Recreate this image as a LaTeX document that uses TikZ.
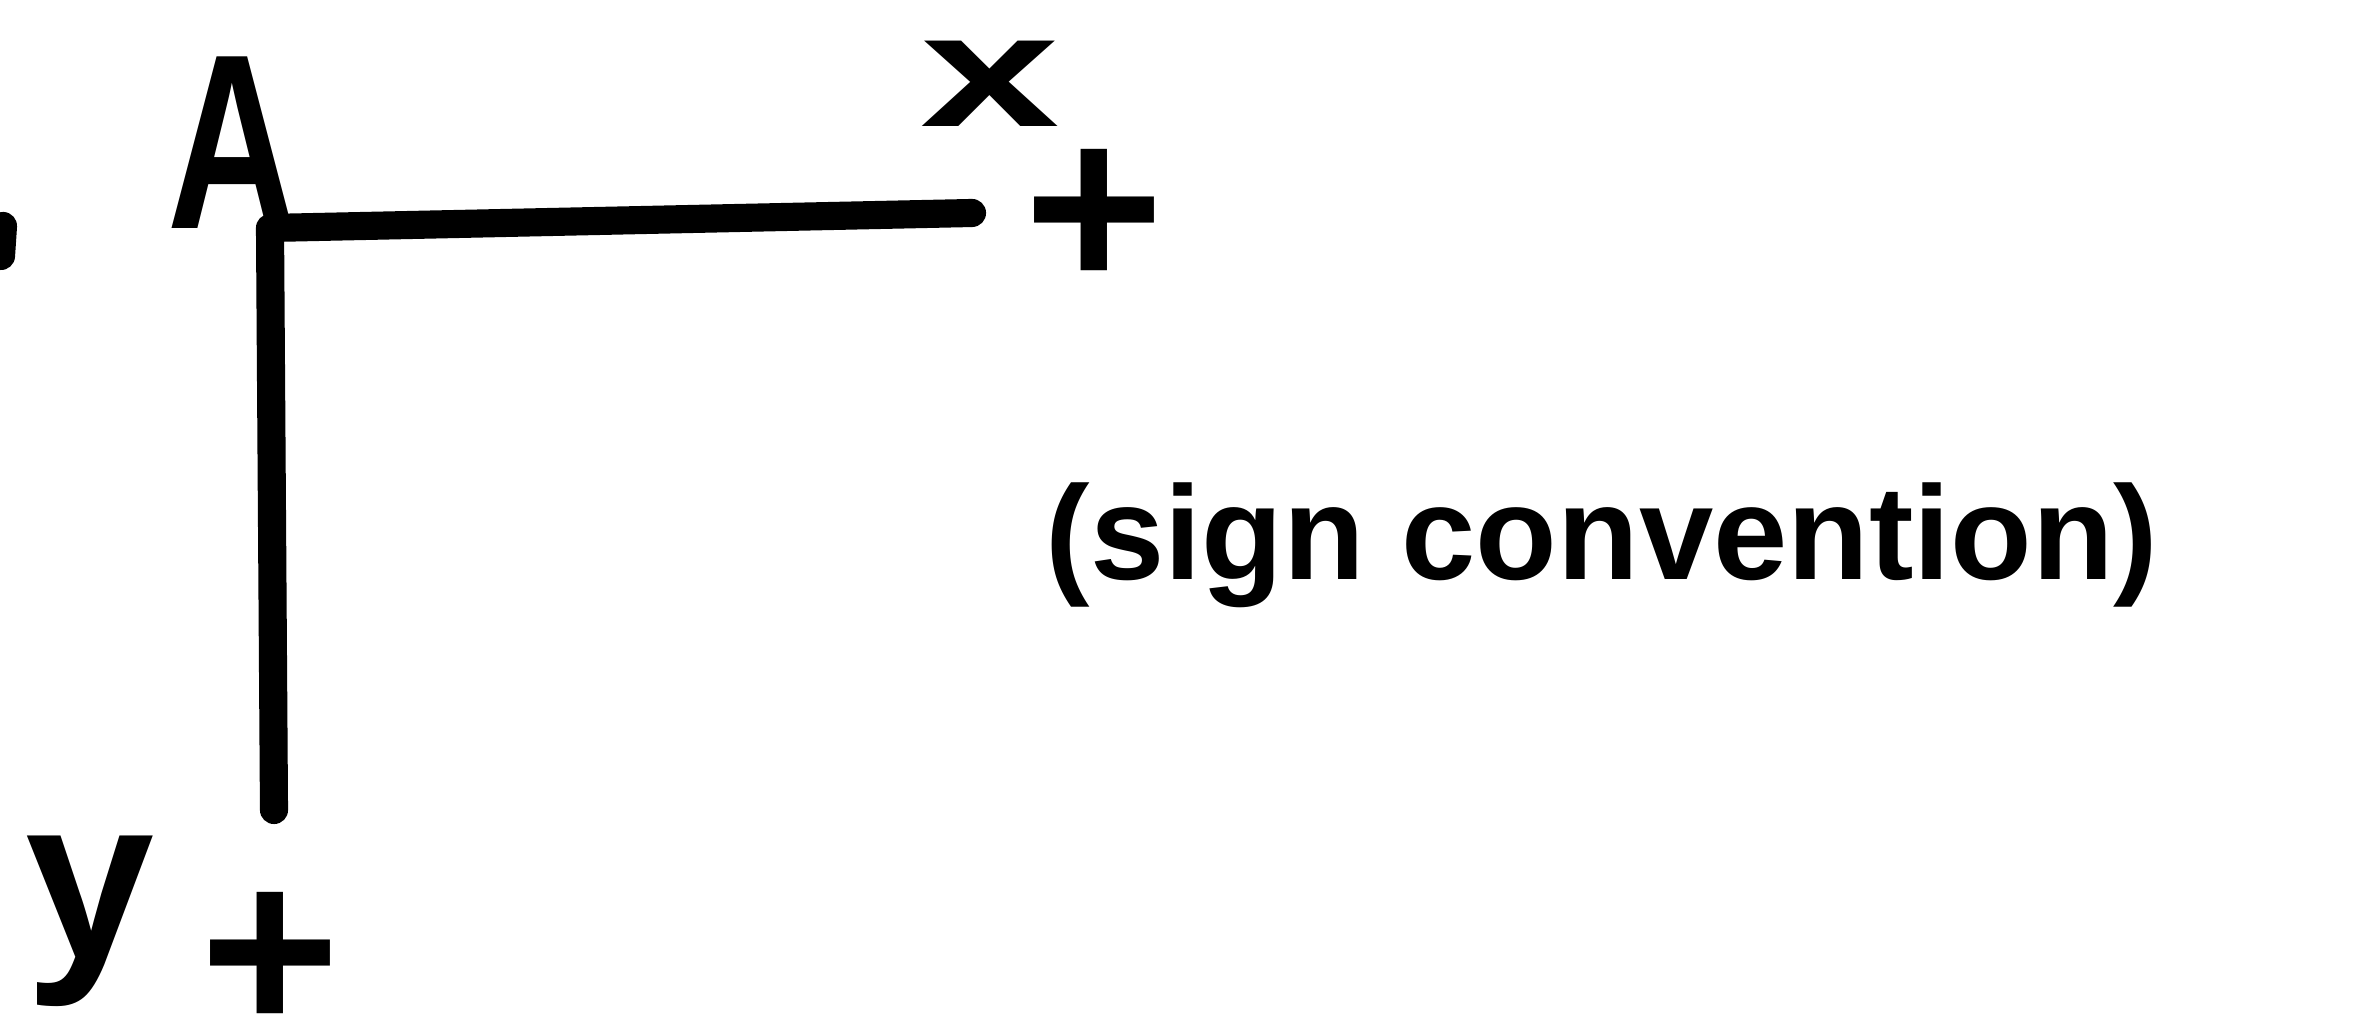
\documentclass[tikz,border=0pt]{standalone}
\usepackage{fontspec}
\setmainfont{Liberation Sans}
\begin{document}
\begin{tikzpicture}[
  axis/.style={line width=8pt, line cap=round, line join=round, black},
  lbl/.style={inner sep=0pt, font=\bfseries},
]
\useasboundingbox (0,0) rectangle (23.53,10.28);
% axes
\coordinate (O) at (2.70,8.00);
\coordinate (xend) at (9.72,8.15);
\coordinate (yend) at (2.74,2.18);
\draw[axis] (xend) -- (O) -- (yend);
% stray mark at left edge
\coordinate (m1) at (0.03,8.02);
\coordinate (m2) at (0.01,7.72);
\draw[axis] (m1) -- (m2);
% labels
\node[lbl, font=\bfseries\fontsize{71}{80}\selectfont, xscale=0.72] (A) at (2.32,8.85) {A};
\node[lbl, font=\bfseries\fontsize{46}{55}\selectfont, xscale=1.55] (xl) at (9.90,9.44) {x};
\node[lbl, font=\bfseries\fontsize{68}{80}\selectfont] (xp) at (10.94,8.09) {+};
\node[lbl, font=\bfseries\fontsize{66}{75}\selectfont] (yl) at (0.90,1.07) {y};
\node[lbl, font=\bfseries\fontsize{68}{80}\selectfont] (yp) at (2.70,0.66) {+};
\node[lbl, font=\bfseries\fontsize{38}{45}\selectfont] (sc) at (16.02,4.83) {(sign convention)};
\end{tikzpicture}
\end{document}
